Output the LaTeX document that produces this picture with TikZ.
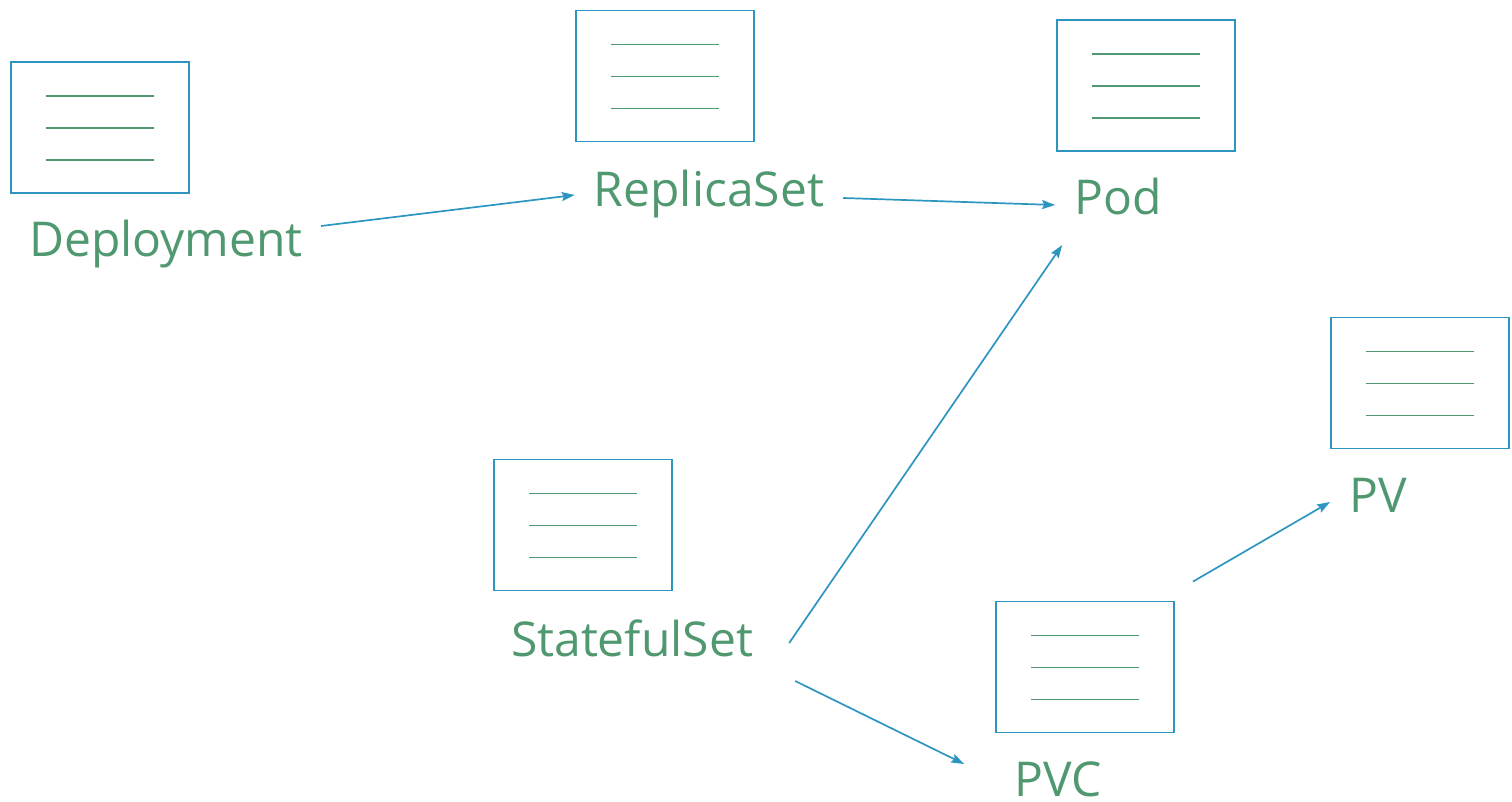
\documentclass[tikz,border=0pt]{standalone}
\usepackage{fontspec}
\setmainfont{Open Sans}
\usepackage{tikz}
\usetikzlibrary{arrows.meta}
\definecolor{kblue}{RGB}{44,150,192}
\definecolor{kgreen}{RGB}{80,152,112}

\begin{document}
\begin{tikzpicture}[x=1pt,y=-1pt]%
  \tikzstyle{boxd}=[rectangle,draw=kblue,line width=1.8pt,minimum width=178,minimum height=131,inner sep=0,
    path picture={\foreach \d in {34,66,98}
      \draw[kgreen,line width=1.8pt] ([shift={(35,\d)}]path picture bounding box.north west) -- ++(108,0);}]
  \tikzstyle{labl}=[anchor=base,inner sep=0,text=kgreen,font=\fontsize{48}{56}\selectfont]
  \tikzstyle{conn}=[draw=kblue,line width=1.7pt,-{Stealth[length=13,width=9,inset=2]}]
  \useasboundingbox (0,0) rectangle (1512,802);
  % boxes
  \node(depb)[boxd] at (100,127.5){};
  \node(rsb)[boxd] at (665,76){};
  \node(podb)[boxd] at (1146,85.5){};
  \node(pvb)[boxd] at (1420,383){};
  \node(ssb)[boxd] at (583,525){};
  \node(pvcb)[boxd] at (1085,667){};
  % labels
  \node(dep)[labl] at (166,257){Deployment};
  \node(rs)[labl] at (709,207){ReplicaSet};
  \node(pod)[labl] at (1118,215){Pod};
  \node(pv)[labl] at (1378,512){PV};
  \node(ss)[labl] at (632,656){StatefulSet};
  \node(pvc)[labl] at (1058,796){PVC};
  % arrows
  \draw[conn] ([shift={(18,-31)}]dep.base east) -- ([shift={(-19,-12)}]rs.base west);
  \draw[conn] ([shift={(19,-9)}]rs.base east) -- ([shift={(-19,-10)}]pod.base west);
  \draw[conn] ([shift={(36,-13)}]ss.base east) -- ([shift={(-12,30)}]pod.base west);
  \draw[conn] ([shift={(42,25)}]ss.base east) -- ([shift={(-50,-32)}]pvc.base west);
  \draw[conn] ([shift={(18,-19)}]pvcb.north east) -- ([shift={(-19,-10)}]pv.base west);
\end{tikzpicture}
\end{document}
